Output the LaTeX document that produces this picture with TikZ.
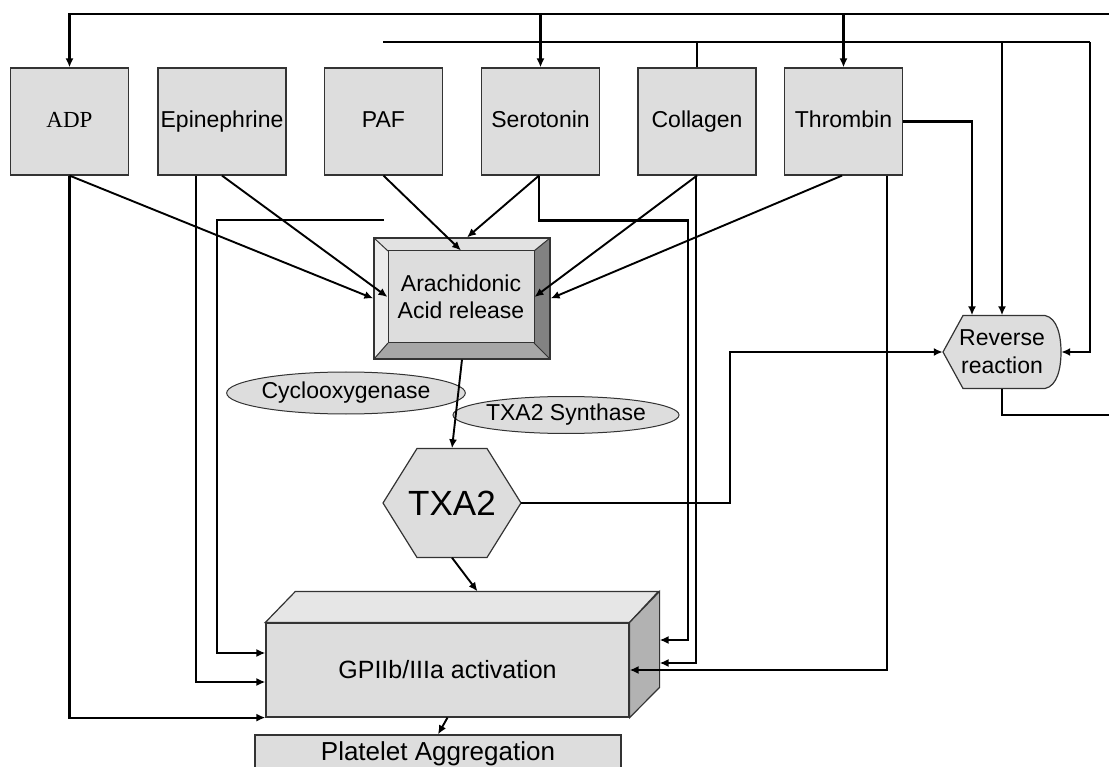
\documentclass[tikz,border=0pt]{standalone}
\usepackage{fontspec}
\setmainfont{Liberation Sans}
\newfontfamily\serifm{Liberation Serif}
\usetikzlibrary{arrows.meta,calc,shapes.geometric}

\definecolor{boxfill}{HTML}{DDDDDD}
\definecolor{boxline}{HTML}{333333}
\definecolor{bevtop}{HTML}{E2E2E2}
\definecolor{bevleft}{HTML}{ECECEC}
\definecolor{bevright}{HTML}{828282}
\definecolor{bevbot}{HTML}{A6A6A6}
\definecolor{cubetop}{HTML}{E6E6E6}
\definecolor{cubeside}{HTML}{B2B2B2}

\newcommand\lbl{\fontsize{23}{27}\selectfont}

\tikzset{
  src/.style={draw=boxline, fill=boxfill, line width=1.2pt, minimum width=118pt,
    minimum height=107pt, inner sep=0pt, font=\lbl, text height=17pt, text depth=4pt},
  enzyme/.style={ellipse, draw=boxline, fill=boxfill, line width=1pt, inner sep=0pt, font=\lbl},
  plain/.style={inner sep=0pt, align=center},
  wire/.style={line width=2.2pt, black},
  arr/.style={line width=2.2pt, black, -{Latex[length=9pt,width=8pt]}},
  thin arr/.style={line width=1.9pt, black, -{Latex[length=9pt,width=8pt]}},
  edge/.style={draw=boxline, line width=1pt},
}

\begin{document}
\begin{tikzpicture}[x=1pt,y=-1pt]
\useasboundingbox (0,0) rectangle (1109,767);

% ---------- agonist boxes ----------
\node[src] (adp) at (69.5,121.5) {\serifm ADP};
\node[src, minimum width=128pt] (epi) at (222,121.5) {Epinephrine};
\node[src] (paf) at (383.5,121.5) {PAF};
\node[src] (ser) at (540.5,121.5) {Serotonin};
\node[src] (col) at (697,121.5) {Collagen};
\node[src] (thr) at (843.5,121.5) {Thrombin};

% ---------- bevelled box: arachidonic acid release ----------
\fill[bevtop]   (374,238) -- (550,238) -- (534,251) -- (388,251) -- cycle;
\fill[bevleft]  (374,238) -- (388,251) -- (388,343) -- (374,359) -- cycle;
\fill[bevright] (550,238) -- (534,251) -- (534,343) -- (550,359) -- cycle;
\fill[bevbot]   (374,359) -- (388,343) -- (534,343) -- (550,359) -- cycle;
\draw[edge] (374,238) -- (388,251) (550,238) -- (534,251)
            (374,359) -- (388,343) (550,359) -- (534,343);
\node[draw=boxline, line width=1.2pt, minimum width=176pt, minimum height=121pt,
      inner sep=0pt] (aa) at (462,298.5) {};
\node[draw=boxline, fill=boxfill, line width=1pt, minimum width=146pt,
      minimum height=92pt, inner sep=0pt, align=center, font=\lbl] (aain) at (461,297)
      {Arachidonic\\Acid release};

% ---------- enzymes ----------
\node[enzyme, minimum width=190pt, minimum height=42pt] (cox) at (346,393) {Cyclooxygenase};
\node[enzyme, minimum width=206pt, minimum height=37pt] (txs) at (566,415) {TXA2 Synthase};

% ---------- TXA2 hexagon ----------
\filldraw[fill=boxfill, draw=boxline, line width=1.2pt]
  (383,503) -- (417,448.5) -- (487,448.5) -- (521,503) -- (487,557.5) -- (417,557.5) -- cycle;
\node[plain, minimum width=138pt, minimum height=109pt,
      font=\fontsize{35}{40}\selectfont] (txa) at (452,503) {TXA2};

% ---------- reverse reaction (display shape) ----------
\filldraw[fill=boxfill, draw=boxline, line width=1.2pt]
  (943,352) -- (963,315.5) -- (1045,315.5)
  .. controls (1057,318) and (1061,335) .. (1061,352)
  .. controls (1061,369) and (1057,386) .. (1045,388.5)
  -- (963,388.5) -- cycle;
\node[plain, minimum width=118pt, minimum height=73pt,
      font=\fontsize{23}{28}\selectfont] (rev) at (1002,352) {Reverse\\reaction};

% ---------- GPIIb/IIIa block ----------
\node[draw=boxline, fill=boxfill, line width=1.2pt, minimum width=363pt,
      minimum height=94pt, inner sep=0pt, font=\fontsize{25}{30}\selectfont]
      (gp) at (447.5,670) {GPIIb/IIIa activation};
\filldraw[fill=cubetop, draw=boxline, line width=1.2pt]
  (gp.north west) -- ++(30,-31) -- ++(363,0) -- (gp.north east) -- cycle;
\filldraw[fill=cubeside, draw=boxline, line width=1.2pt]
  (gp.north east) -- ++(30,-31) -- ++(0,96) -- (gp.south east) -- cycle;

% ---------- platelet aggregation ----------
\node[draw=boxline, fill=boxfill, line width=1.2pt, minimum width=366pt,
      minimum height=37pt, inner sep=0pt, font=\fontsize{26}{30}\selectfont]
      (plt) at (438,753.5) {Platelet Aggregation};

% ---------- loose ends and bus points ----------
\coordinate (loopR) at (1130,415);
\coordinate (loopT) at (1130,14);
\coordinate (bus2) at (1090,42);
\coordinate (open1) at (383,42);
\coordinate (open2) at (384,220);
\coordinate (gpback) at ($(gp.east)+(30,0)$);

% feedback from the reverse reaction round to the agonists
\draw[wire] (rev.south) |- (loopR) -- (loopT);
\draw[arr] (loopT) -| (adp.north);
\draw[arr] (ser.north |- loopT) -- (ser.north);
\draw[arr] (thr.north |- loopT) -- (thr.north);

% second bus
\draw[wire] (open1) -- (bus2);
\draw[wire] (col.north) -- (col.north |- bus2);
\draw[arr] (rev.north |- bus2) -- (rev.north);
\draw[arr] (bus2) |- (rev.east);
\draw[arr] (thr.east) -| ($(rev.north)+(-30,0)$);

% TXA2 to reverse reaction
\draw[arr] (txa.east) -- ++(209,0) |- (rev.west);

% agonists into arachidonic acid release
\draw[thin arr] (adp.south) -- (aa.west);
\draw[thin arr] (epi.south) -- (aain.west);
\draw[thin arr] (paf.south) -- (aain.north);
\draw[thin arr] ($(ser.south)+(-1.5,0)$) -- ($(aa.north)+(5,0)$);
\draw[thin arr] (col.south) -- (aain.east);
\draw[thin arr] ($(thr.south)+(-1.5,0)$) -- (aa.east);

% main cascade
\draw[thin arr] (aa.south) -- (txa.north);
\draw[thin arr] (txa.south) -- ($(gp.north)+(30,-31)$);
\draw[thin arr] (gp.south) -- (plt.north);

% direct agonist routes into GPIIb/IIIa, left side
\draw[arr] (adp.south) |- (gp.south west);
\draw[arr] ($(epi.south)+(-26,0)$) |- ($(gp.west)+(0,12)$);
\draw[arr] (open2) -- ++(-167,0) |- ($(gp.west)+(0,-17)$);

% direct agonist routes into GPIIb/IIIa, right side
\draw[arr] ($(ser.south)+(-1.5,0)$) -- ++(0,45) -| ($(gpback)+(28,-30)$) -- ($(gpback)+(0,-30)$);
\draw[arr] ($(col.south)+(-1,0)$) |- ($(gpback)+(0,-7)$);
\draw[arr] ($(thr.south)+(43.5,0)$) |- (gp.east);
\end{tikzpicture}
\end{document}
